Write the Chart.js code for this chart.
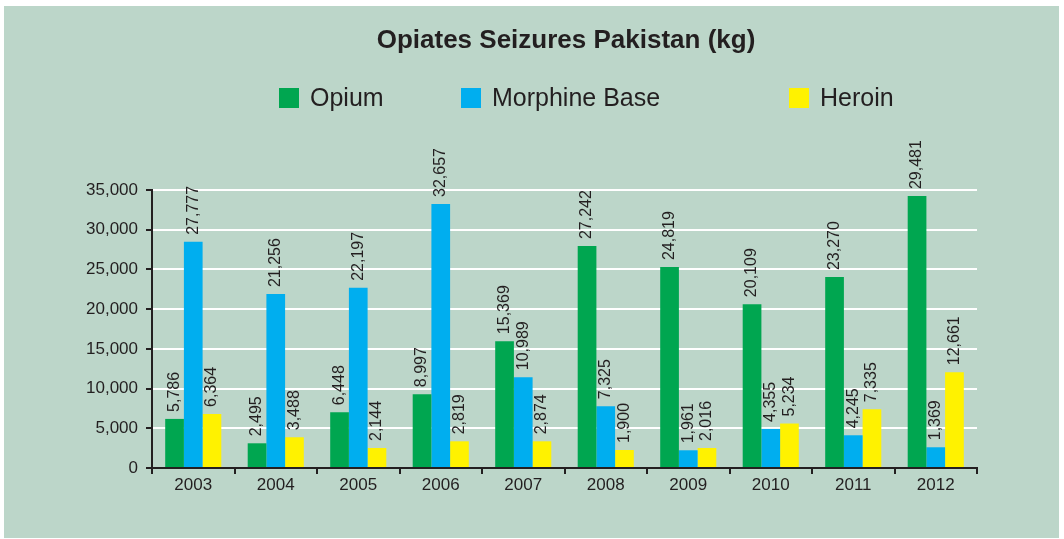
<!DOCTYPE html>
<html>
<head>
<meta charset="utf-8">
<script src="https://cdn.jsdelivr.net/npm/chart.js@4.4.1/dist/chart.umd.min.js"></script>
<style>
    html, body { margin: 0; padding: 0; background: #ffffff; }
    #wrap { width: 1064px; height: 539px; }
</style>
</head>
<body>
<div id="wrap"><canvas id="seizChart" width="1064" height="539"></canvas></div>
<script>
// Years on the x axis
const years = ["2003", "2004", "2005", "2006", "2007", "2008", "2009", "2010", "2011", "2012"];

// Bar heights as drawn in the picture (kg)
const opium = [6180, 3110, 7020, 9290, 15970, 27940, 25300, 20630, 24040, 34240];
const morphine = [28480, 21900, 22690, 33240, 11430, 7780, 2230, 4920, 4120, 2610];
const heroin = [6810, 3870, 2520, 3360, 3360, 2270, 2520, 5600, 7400, 12060];

// Value labels printed above the bars
const opiumLabels = ["5,786", "2,495", "6,448", "8,997", "15,369", "27,242", "24,819", "20,109", "23,270", "29,481"];
const morphineLabels = ["27,777", "21,256", "22,197", "32,657", "10,989", "7,325", "1,961", "4,355", "4,245", "1,369"];
const heroinLabels = ["6,364", "3,488", "2,144", "2,819", "2,874", "1,900", "2,016", "5,234", "7,335", "12,661"];

// y axis ticks
const yMax = 35000;
const yStep = 5000;

const FONT = "'Liberation Sans', Arial, Helvetica, sans-serif";
const INK = "#231f20";
const PANEL = "#bcd6c9";

// green panel behind everything
const panelPlugin = {
    id: "panel",
    beforeDraw(chart) {
        const ctx = chart.ctx;
        ctx.save();
        ctx.fillStyle = "#ffffff";
        ctx.fillRect(0, 0, chart.width, chart.height);
        ctx.fillStyle = PANEL;
        ctx.fillRect(4, 6, 1055, 532);
        ctx.restore();
    }
};

// title and the spaced-out legend row
const headerPlugin = {
    id: "header",
    afterDraw(chart) {
        const ctx = chart.ctx;
        ctx.save();
        ctx.fillStyle = INK;
        ctx.font = "bold 26px " + FONT;
        ctx.textAlign = "center";
        ctx.textBaseline = "middle";
        ctx.fillText("Opiates Seizures Pakistan (kg)", 566, 41);

        const legendX = [279, 461, 789];
        ctx.font = "25px " + FONT;
        ctx.textAlign = "left";
        chart.data.datasets.forEach(function(ds, i) {
            ctx.fillStyle = ds.backgroundColor;
            ctx.fillRect(legendX[i], 88, 20, 20);
            ctx.fillStyle = INK;
            ctx.fillText(ds.label, legendX[i] + 31, 99);
        });
        ctx.restore();
    }
};

// rotated value labels above each bar
const valueLabelPlugin = {
    id: "valueLabels",
    afterDatasetsDraw(chart) {
        const ctx = chart.ctx;
        ctx.save();
        ctx.fillStyle = INK;
        ctx.font = "16px " + FONT;
        ctx.textAlign = "left";
        ctx.textBaseline = "middle";
        chart.data.datasets.forEach(function(ds, i) {
            const meta = chart.getDatasetMeta(i);
            meta.data.forEach(function(bar, j) {
                ctx.save();
                ctx.translate(bar.x, bar.y - 7);
                ctx.rotate(-Math.PI / 2);
                ctx.fillText(ds.valueLabels[j], 0, 0);
                ctx.restore();
            });
        });
        ctx.restore();
    }
};

const ctx = document.getElementById("seizChart").getContext("2d");
new Chart(ctx, {
    type: "bar",
    data: {
        labels: years,
        datasets: [
            {label: "Opium", data: opium, valueLabels: opiumLabels, backgroundColor: "#00a650"},
            {label: "Morphine Base", data: morphine, valueLabels: morphineLabels, backgroundColor: "#00aeef"},
            {label: "Heroin", data: heroin, valueLabels: heroinLabels, backgroundColor: "#fff200"},
        ]
    },
    options: {
        responsive: false,
        animation: false,
        devicePixelRatio: 1,
        categoryPercentage: 0.68,
        barPercentage: 1.0,
        layout: {padding: {top: 190, left: 0, right: 87, bottom: 31}},
        plugins: {
            legend: {display: false},
            title: {display: false},
            tooltip: {enabled: false},
        },
        scales: {
            x: {
                afterFit(scale) { scale.height = 40; },
                grid: {
                    drawOnChartArea: false,
                    drawTicks: true,
                    tickLength: 6,
                    color: INK,
                    lineWidth: 2,
                },
                border: {display: true, color: INK, width: 2},
                ticks: {color: INK, font: {family: FONT, size: 17}, padding: 1},
            },
            y: {
                min: 0,
                max: yMax,
                afterFit(scale) { scale.width = 152; },
                grid: {
                    color: "#ffffff",
                    lineWidth: 2,
                    drawTicks: true,
                    tickLength: 6,
                    tickColor: INK,
                },
                border: {display: true, color: INK, width: 2},
                ticks: {
                    stepSize: yStep,
                    color: INK,
                    padding: 8,
                    font: {family: FONT, size: 17},
                    callback: function(v) { return v.toLocaleString("en-US"); },
                },
            },
        },
    },
    plugins: [panelPlugin, headerPlugin, valueLabelPlugin],
});
</script>
</body>
</html>
